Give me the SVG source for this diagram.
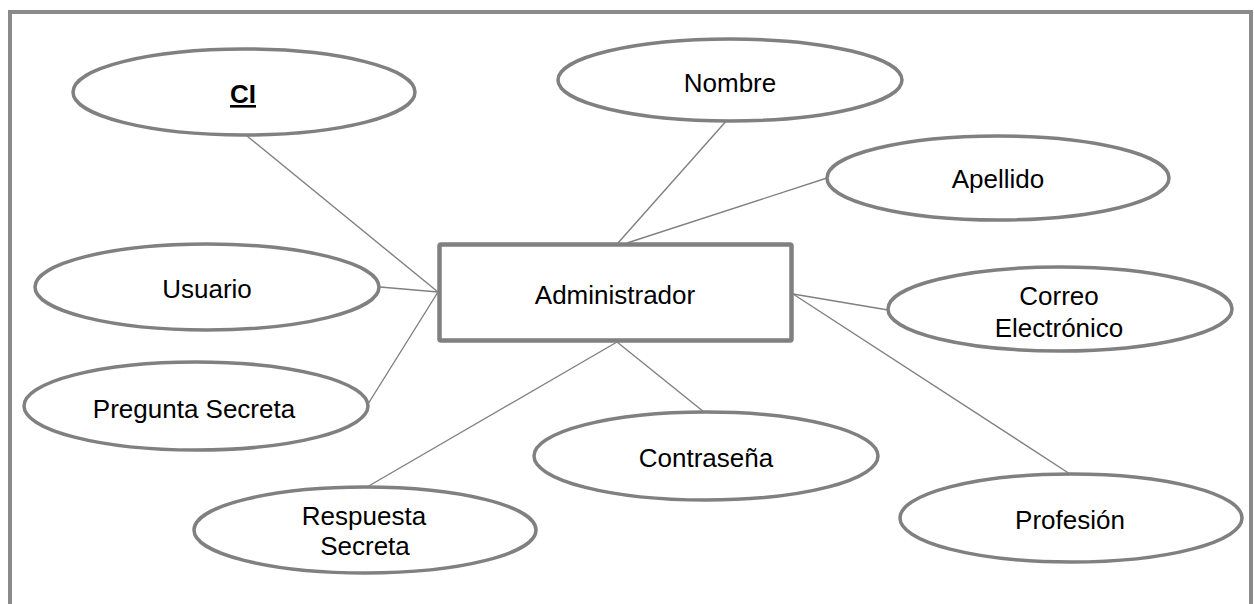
<svg xmlns="http://www.w3.org/2000/svg" width="1254" height="604" viewBox="0 0 1254 604">
<style>
.frame{fill:#ffffff;stroke:#8a8a8a;stroke-width:4}
.attr{fill:#ffffff;stroke:#808080;stroke-width:3.5}
.ent{fill:#ffffff;stroke:#808080;stroke-width:4.5}
.conn{stroke:#808080;stroke-width:1.4;fill:none}
text{font-family:"Liberation Sans",Arial,sans-serif;font-size:26px;fill:#000000;text-anchor:middle}
</style>
<rect class="frame" x="10" y="12" width="1241" height="640"/>
<g id="connectors">
<line class="conn" x1="247" y1="136" x2="438" y2="292"/>
<line class="conn" x1="380" y1="287" x2="438" y2="292"/>
<line class="conn" x1="368" y1="404" x2="438" y2="292"/>
<line class="conn" x1="728" y1="119" x2="618" y2="243"/>
<line class="conn" x1="827" y1="178" x2="627" y2="243"/>
<line class="conn" x1="793" y1="294" x2="888" y2="310"/>
<line class="conn" x1="793" y1="294" x2="1070" y2="474"/>
<line class="conn" x1="617" y1="342" x2="367" y2="487"/>
<line class="conn" x1="617" y1="342" x2="704" y2="412"/>
</g>
<g id="administrador">
<rect class="ent" x="439.5" y="244.5" width="352" height="96" rx="1.5"/>
<text x="615" y="304">Administrador</text>
</g>
<g id="ci">
<ellipse class="attr" cx="244" cy="92" rx="171" ry="43"/>
<text x="243" y="103" font-weight="bold" text-decoration="underline">CI</text>
</g>
<g id="nombre">
<ellipse class="attr" cx="730" cy="80" rx="172" ry="41"/>
<text x="730" y="92">Nombre</text>
</g>
<g id="apellido">
<ellipse class="attr" cx="998" cy="178" rx="171" ry="42"/>
<text x="998" y="188">Apellido</text>
</g>
<g id="correo">
<ellipse class="attr" cx="1060" cy="309" rx="172" ry="42"/>
<text x="1059" y="305">Correo</text>
<text x="1059" y="337">Electrónico</text>
</g>
<g id="profesion">
<ellipse class="attr" cx="1071" cy="518" rx="171" ry="44"/>
<text x="1070" y="529">Profesión</text>
</g>
<g id="usuario">
<ellipse class="attr" cx="207" cy="287" rx="172" ry="43"/>
<text x="207" y="298">Usuario</text>
</g>
<g id="pregunta">
<ellipse class="attr" cx="196" cy="406" rx="172" ry="44"/>
<text x="194" y="418" font-size="24">Pregunta Secreta</text>
</g>
<g id="respuesta">
<ellipse class="attr" cx="365" cy="530" rx="171" ry="43"/>
<text x="364" y="525">Respuesta</text>
<text x="365" y="555">Secreta</text>
</g>
<g id="contrasena">
<ellipse class="attr" cx="706" cy="456" rx="172" ry="44"/>
<text x="706" y="467">Contraseña</text>
</g>
</svg>
